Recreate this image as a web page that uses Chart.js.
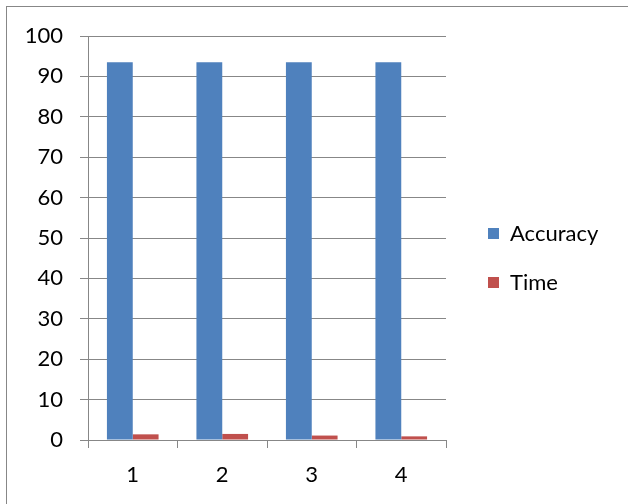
<!DOCTYPE html>
<html>
<head>
<meta charset="utf-8">
<script src="https://cdn.jsdelivr.net/npm/chart.js@4/dist/chart.umd.min.js"></script>
<style>
  html, body { margin: 0; padding: 0; background: #fff; overflow: hidden; }
  #wrap { position: relative; width: 628px; height: 504px; }
  #frame { position: absolute; left: 6px; top: 6px; width: 700px; height: 600px;
           border: 1px solid #878787; box-sizing: border-box; pointer-events: none; }
  canvas { position: absolute; left: 0; top: 0; }
</style>
</head>
<body>
<div id="wrap">
  <canvas id="chart" width="628" height="504"></canvas>
  <div id="frame"></div>
</div>
<script>
const categories = ['1', '2', '3', '4'];
const accuracy = [93.5, 93.5, 93.5, 93.5];
const time = [1.4, 1.5, 1.1, 0.9];
const yTicks = [0, 10, 20, 30, 40, 50, 60, 70, 80, 90, 100];

const FONT = 'Lato, "Open Sans", sans-serif';
const GRID = '#878787';

// Legend drawn to the right of the plot, one square swatch per dataset
const sideLegend = {
  id: 'sideLegend',
  afterDraw(chart) {
    const ctx = chart.ctx;
    const x0 = chart.chartArea.right + 42;
    let y = chart.chartArea.top + 197.5;
    ctx.save();
    ctx.font = '22px ' + FONT;
    ctx.textBaseline = 'middle';
    ctx.textAlign = 'left';
    chart.data.datasets.forEach(ds => {
      ctx.fillStyle = ds.backgroundColor;
      ctx.fillRect(x0, y - 5.5, 11, 11);
      ctx.fillStyle = '#000';
      ctx.fillText(ds.label, x0 + 22, y);
      y += 49;
    });
    ctx.restore();
  }
};

new Chart(document.getElementById('chart'), {
  type: 'bar',
  data: {
    labels: categories,
    datasets: [
      { label: 'Accuracy', data: accuracy, backgroundColor: '#4F81BD' },
      { label: 'Time', data: time, backgroundColor: '#C0504D' }
    ]
  },
  options: {
    responsive: false,
    animation: false,
    devicePixelRatio: 1,
    layout: { padding: { top: 36, right: 182, bottom: 0, left: 0 } },
    datasets: { bar: { categoryPercentage: 0.577, barPercentage: 1.0 } },
    plugins: { legend: { display: false }, tooltip: { enabled: false } },
    scales: {
      x: {
        grid: { offset: true, drawOnChartArea: false, drawTicks: true, tickLength: 8, color: GRID, lineWidth: 1 },
        border: { display: true, color: GRID, width: 1 },
        ticks: { color: '#000', font: { family: FONT, size: 22 }, padding: 14, maxRotation: 0 },
        afterFit(scale) { scale.height = 64; }
      },
      y: {
        min: 0, max: 100,
        afterBuildTicks(scale) { scale.ticks = yTicks.map(v => ({ value: v })); },
        grid: { color: GRID, lineWidth: 1, drawTicks: true, tickLength: 8 },
        border: { display: true, color: GRID, width: 1 },
        ticks: { color: '#000', font: { family: FONT, size: 22 }, padding: 17 },
        afterFit(scale) { scale.width = 88; }
      }
    }
  },
  plugins: [sideLegend]
});
</script>
</body>
</html>
